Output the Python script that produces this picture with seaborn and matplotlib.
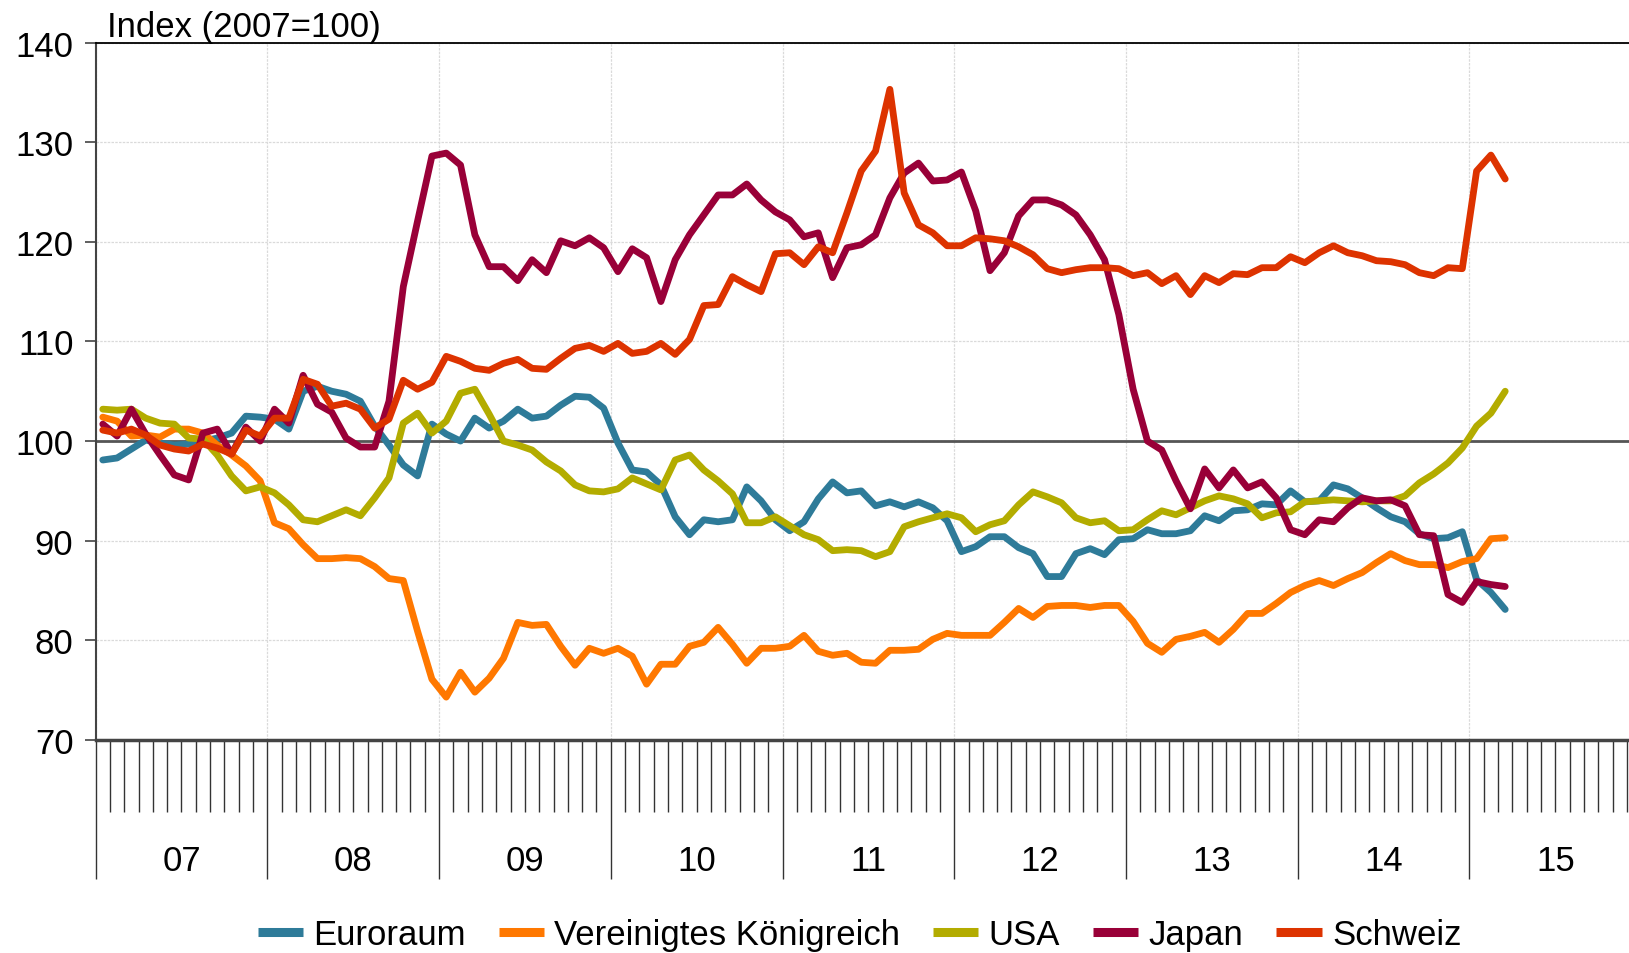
import numpy as np
import pandas as pd
import matplotlib
matplotlib.use("Agg")
import matplotlib.pyplot as plt
import seaborn as sns

# ---------------- data ----------------
series_names = ["Euroraum", "Vereinigtes Königreich", "USA", "Japan", "Schweiz"]
colors = ["#2E7B99", "#FF7800", "#B3AC00", "#990038", "#DD3300"]
year_labels = ["07", "08", "09", "10", "11", "12", "13", "14", "15"]
y_ticks = [70, 80, 90, 100, 110, 120, 130, 140]
title_text = "Index (2007=100)"

euro = [98.1, 98.3, 99.2, 100.1, 99.8, 99.6, 99.7, 100.0, 100.3, 100.8,
        102.5, 102.4, 102.2, 101.2, 105.0, 105.5, 105.0, 104.7, 104.0, 101.5,
        99.6, 97.6, 96.5, 101.7, 100.7, 100.0, 102.3, 101.3, 102.0, 103.2,
        102.3, 102.5, 103.6, 104.5, 104.4, 103.3, 99.8, 97.1, 96.9, 95.6,
        92.4, 90.6, 92.1, 91.9, 92.1, 95.4, 94.0, 92.1, 91.0, 91.9,
        94.2, 95.9, 94.8, 95.0, 93.5, 93.9, 93.4, 93.9, 93.3, 92.0,
        88.9, 89.4, 90.4, 90.4, 89.3, 88.7, 86.4, 86.4, 88.7, 89.2,
        88.6, 90.1, 90.2, 91.1, 90.7, 90.7, 91.0, 92.5, 92.0, 93.0,
        93.1, 93.7, 93.6, 95.0, 93.9, 94.0, 95.6, 95.2, 94.3, 93.3,
        92.4, 91.9, 90.7, 90.2, 90.3, 90.9, 86.1, 84.8, 83.1]

uk = [102.4, 102.0, 100.5, 100.6, 100.4, 101.2, 101.2, 100.8, 99.6, 98.6,
      97.5, 96.0, 91.8, 91.2, 89.6, 88.2, 88.2, 88.3, 88.2, 87.4,
      86.2, 86.0, 80.9, 76.1, 74.3, 76.8, 74.8, 76.2, 78.2, 81.8,
      81.5, 81.6, 79.4, 77.5, 79.2, 78.7, 79.2, 78.4, 75.6, 77.6,
      77.6, 79.4, 79.8, 81.3, 79.6, 77.7, 79.2, 79.2, 79.4, 80.5,
      78.9, 78.5, 78.7, 77.8, 77.7, 79.0, 79.0, 79.1, 80.1, 80.7,
      80.5, 80.5, 80.5, 81.8, 83.2, 82.3, 83.4, 83.5, 83.5, 83.3,
      83.5, 83.5, 81.9, 79.7, 78.8, 80.1, 80.4, 80.8, 79.8, 81.1,
      82.7, 82.7, 83.7, 84.8, 85.5, 86.0, 85.5, 86.2, 86.8, 87.8,
      88.7, 88.0, 87.6, 87.6, 87.3, 87.9, 88.2, 90.2, 90.3]

usa = [103.2, 103.1, 103.2, 102.3, 101.8, 101.7, 100.3, 100.2, 98.6, 96.5,
       95.0, 95.4, 94.8, 93.6, 92.1, 91.9, 92.5, 93.1, 92.5, 94.3,
       96.3, 101.8, 102.8, 100.8, 102.0, 104.8, 105.2, 102.7, 100.0, 99.6,
       99.1, 97.9, 97.0, 95.6, 95.0, 94.9, 95.2, 96.3, 95.7, 95.1,
       98.1, 98.6, 97.1, 96.0, 94.7, 91.8, 91.8, 92.4, 91.5, 90.6,
       90.1, 89.0, 89.1, 89.0, 88.4, 88.9, 91.4, 91.9, 92.3, 92.7,
       92.3, 90.9, 91.6, 92.0, 93.6, 94.9, 94.4, 93.8, 92.3, 91.8,
       92.0, 91.0, 91.1, 92.1, 93.0, 92.6, 93.3, 94.0, 94.5, 94.2,
       93.7, 92.3, 92.8, 92.9, 93.9, 94.0, 94.1, 94.0, 93.9, 94.0,
       94.0, 94.5, 95.8, 96.7, 97.8, 99.3, 101.5, 102.8, 105.0]

japan = [101.7, 100.5, 103.2, 100.7, 98.6, 96.6, 96.1, 100.8, 101.2, 98.7,
         101.4, 100.0, 103.2, 101.8, 106.6, 103.7, 102.9, 100.3, 99.4, 99.4,
         104.0, 115.5, 122.1, 128.6, 128.9, 127.7, 120.7, 117.5, 117.5, 116.1,
         118.2, 116.9, 120.1, 119.6, 120.4, 119.4, 117.0, 119.3, 118.4, 114.0,
         118.2, 120.7, 122.7, 124.7, 124.7, 125.8, 124.2, 123.0, 122.2, 120.5,
         120.9, 116.4, 119.4, 119.7, 120.7, 124.4, 126.9, 127.9, 126.1, 126.2,
         127.0, 123.1, 117.1, 118.9, 122.6, 124.2, 124.2, 123.7, 122.7, 120.7,
         118.2, 112.7, 105.2, 100.0, 99.1, 96.0, 93.2, 97.2, 95.3, 97.1,
         95.3, 95.9, 94.3, 91.1, 90.6, 92.1, 91.9, 93.3, 94.3, 94.0,
         94.1, 93.5, 90.6, 90.5, 84.6, 83.8, 85.9, 85.6, 85.4]

swiss = [101.1, 100.8, 101.2, 100.6, 99.6, 99.2, 99.0, 99.7, 99.3, 98.7,
         101.1, 100.5, 102.3, 102.3, 106.2, 105.7, 103.5, 103.8, 103.2, 101.3,
         102.2, 106.1, 105.2, 105.9, 108.5, 108.0, 107.3, 107.1, 107.8, 108.2,
         107.3, 107.2, 108.3, 109.3, 109.6, 109.0, 109.8, 108.8, 109.0, 109.8,
         108.7, 110.2, 113.6, 113.7, 116.5, 115.7, 115.0, 118.8, 118.9, 117.7,
         119.5, 118.9, 122.9, 127.1, 129.1, 135.3, 124.9, 121.7, 120.9, 119.6,
         119.6, 120.4, 120.3, 120.1, 119.5, 118.7, 117.3, 116.9, 117.2, 117.4,
         117.4, 117.3, 116.6, 116.9, 115.8, 116.6, 114.7, 116.6, 115.9, 116.8,
         116.7, 117.4, 117.4, 118.5, 117.9, 118.9, 119.6, 118.9, 118.6, 118.1,
         118.0, 117.7, 116.9, 116.6, 117.4, 117.3, 127.1, 128.7, 126.3]

all_series = [euro, uk, usa, japan, swiss]

# ---------------- build long table ----------------
n = len(euro)
month_pos = np.arange(n) + 0.5  # monthly observations centred in month slots from Jan 2007
frames = []
for name, vals in zip(series_names, all_series):
    frames.append(pd.DataFrame({"month": month_pos, "value": vals, "series": name}))
df = pd.concat(frames, ignore_index=True)

# ---------------- style ----------------
sns.set_style("white")
plt.rcParams["font.family"] = ["Liberation Sans", "DejaVu Sans"]
plt.rcParams["text.color"] = "black"
plt.rcParams["xtick.color"] = "#333333"
plt.rcParams["ytick.color"] = "#444444"
plt.rcParams["xtick.labelcolor"] = "black"
plt.rcParams["ytick.labelcolor"] = "black"
FS = 25

fig = plt.figure(figsize=(16.29, 9.54), dpi=100)
ax = fig.add_axes([0.0587, 0.2233, 0.9413, 0.7311])

sns.lineplot(data=df, x="month", y="value", hue="series", hue_order=series_names,
             palette=colors, linewidth=4.9, sort=False, ax=ax, zorder=3)

n_years = len(year_labels)
ax.set_xlim(0, 107.15)
ax.set_ylim(70, 140)

year_bounds = np.arange(n_years) * 12
month_ticks = [m for m in range(1, 108) if m % 12 != 0]
ax.set_xticks(year_bounds)
ax.set_xticks(month_ticks, minor=True)
ax.set_yticks(y_ticks)
ax.set_yticklabels([str(v) for v in y_ticks], fontsize=FS)

ax.tick_params(axis="x", which="major", direction="out", bottom=True, length=100,
               width=1.0, color="#333333", labelbottom=False)
ax.tick_params(axis="x", which="minor", direction="out", bottom=True, length=52,
               width=1.0, color="#333333")
ax.tick_params(axis="y", which="major", direction="out", left=True, length=8,
               width=1.2, color="#444444", pad=8, labelcolor="black")

ax.grid(True, which="major", color="#dadada", linewidth=0.9, linestyle=(0, (2, 1)))
ax.set_axisbelow(True)
ax.axhline(100, color="#555555", linewidth=2.0, zorder=2)

ax.spines["right"].set_visible(False)
ax.spines["top"].set_color("black")
ax.spines["top"].set_linewidth(1.3)
ax.spines["left"].set_color("#444444")
ax.spines["left"].set_linewidth(1.5)
ax.spines["bottom"].set_color("#444444")
ax.spines["bottom"].set_linewidth(2.5)

ax.set_xlabel("")
ax.set_ylabel("")

# year labels centred in each year block
for k, lab in enumerate(year_labels):
    ax.text(k * 12 + 6, -0.173, lab, transform=ax.get_xaxis_transform(),
            ha="center", va="center", fontsize=FS, color="black")

# title above the axis
fig.text(107 / 1629, 1 - 27 / 954, title_text, ha="left", va="center",
         fontsize=FS, color="black")

# legend at the bottom
handles, labels = ax.get_legend_handles_labels()
if ax.get_legend() is not None:
    ax.get_legend().remove()
leg = fig.legend(handles, labels, loc="center", bbox_to_anchor=(0.5277, 0.019), ncol=5,
                 frameon=False, fontsize=FS, handlelength=1.3, handletextpad=0.3,
                 columnspacing=0.95)
for line in leg.get_lines():
    line.set_linewidth(6.5)
    line.set_solid_capstyle("butt")
for t in leg.get_texts():
    t.set_color("black")

fig.savefig("out.png", dpi=100)
